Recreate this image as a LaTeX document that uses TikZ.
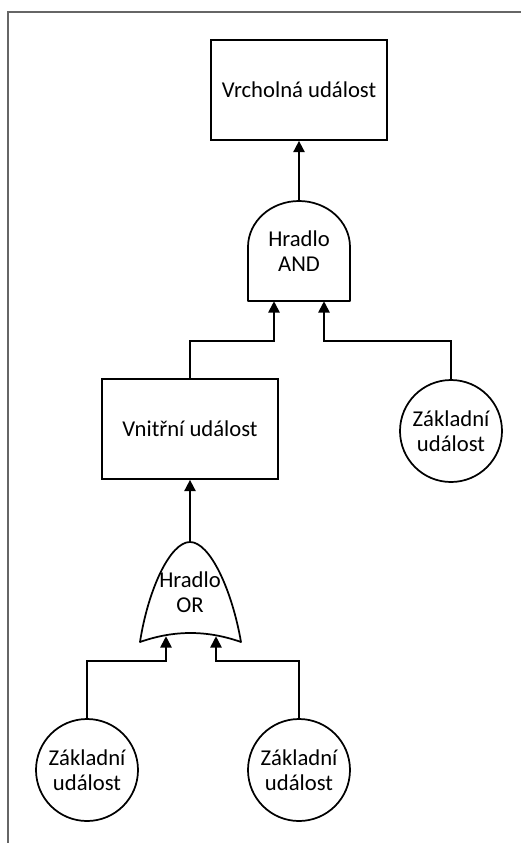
\documentclass[tikz,border=0pt]{standalone}
\usepackage{fontspec}
\setmainfont{Carlito}
\usetikzlibrary{arrows.meta,calc}

\tikzset{
  event/.style={draw, line width=1.3pt, minimum width=132pt, minimum height=75pt,
    inner sep=0pt, align=center, font=\fontsize{17}{18.5}\selectfont},
  basic/.style={draw, circle, line width=1.3pt, minimum size=76.5pt,
    inner sep=0pt, align=center, font=\fontsize{17}{18.5}\selectfont},
  gatebox/.style={minimum width=76.5pt, minimum height=75pt, inner sep=0pt,
    align=center, font=\fontsize{17}{18.5}\selectfont},
  gateline/.style={line width=1.3pt, line join=round},
  link/.style={line width=1.3pt, -{Triangle[length=8.5pt,width=8.5pt]}},
  frame/.style={line width=0.8pt, black!60}
}

\begin{document}
\begin{tikzpicture}[x=0.75pt,y=-0.75pt]
\useasboundingbox (0,0) rectangle (521,843);

% page frame (left and top edges)
\draw[frame] (8,843) -- (8,12) -- (521,12);

% events
\node[event] (top) at (299,90) {Vrcholná událost};
\node[event] (mid) at (190,429) {Vnitřní událost};
\node[basic] (b1) at (451,431) {Základní\\událost};
\node[basic] (b2) at (87,770) {Základní\\událost};
\node[basic] (b3) at (299,770) {Základní\\událost};

% AND gate
\node[gatebox] (and) at (299,251) {Hradlo\\AND};
\draw[gateline, shift={(and.center)}]
  (-51,50) -- (-51,-4)
  .. controls (-51,-29.4) and (-28.2,-50) .. (0,-50)
  .. controls (28.2,-50) and (51,-29.4) .. (51,-4)
  -- (51,50) -- cycle;
\coordinate (andIn1) at ($(and.south)+(-25,0)$);
\coordinate (andIn2) at ($(and.south)+(25,0)$);

% OR gate
\node[gatebox] (or) at (190,592) {Hradlo\\OR};
\draw[gateline, shift={(or.center)}]
  (-50,50)
  .. controls (-42,-2) and (-20,-50) .. (0,-50)
  .. controls (20,-50) and (42,-2) .. (51,50)
  .. controls (17,38) and (-16,38) .. cycle;
\coordinate (orIn1) at ($(or.south)+(-24,-6)$);
\coordinate (orIn2) at ($(or.south)+(26,-6)$);

% connectors
\draw[link] (and.north) -- (top.south);
\draw[link] (mid.north) -- ++(0,-37) -| (andIn1);
\draw[link] (b1.north) -- ++(0,-38) -| (andIn2);
\draw[link] (or.north) -- (mid.south);
\draw[link] (b2.north) -- ++(0,-57) -| (orIn1);
\draw[link] (b3.north) -- ++(0,-57) -| (orIn2);
\end{tikzpicture}
\end{document}
